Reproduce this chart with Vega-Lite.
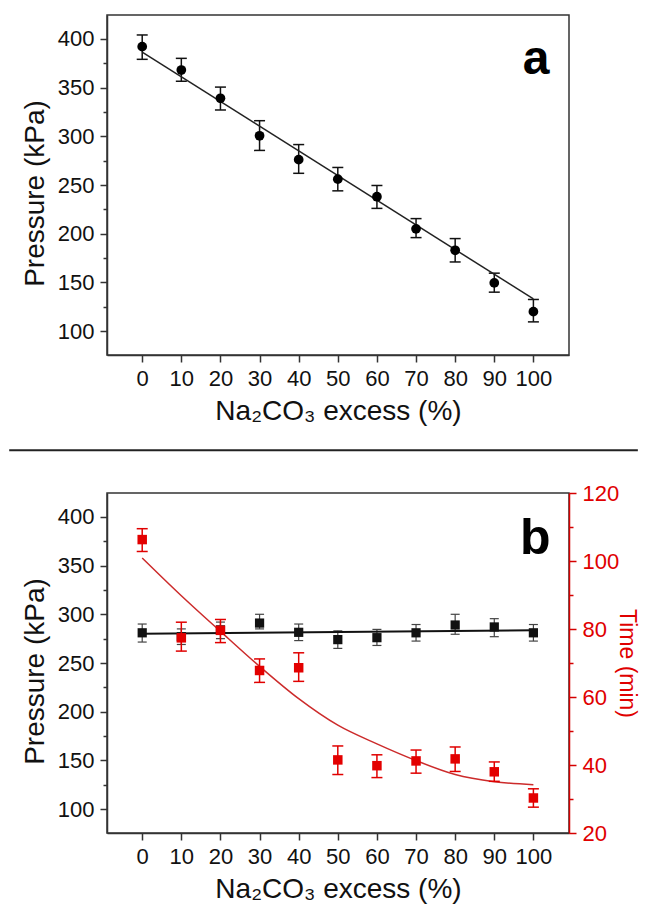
{
  "$schema": "https://vega.github.io/schema/vega-lite/v6.json",
  "padding": {"left": 7, "top": 14, "right": 0, "bottom": 0},
  "background": "white",
  "bounds": "flush",
  "spacing": 138,
  "config": {
    "font": "Liberation Sans",
    "view": {"stroke": "#333", "strokeWidth": 1.5},
    "axis": {
      "labelFont": "Liberation Sans", "titleFont": "Liberation Sans",
      "labelFontSize": 22, "titleFontSize": 28, "titleFontWeight": "normal",
      "labelColor": "#111", "titleColor": "#111",
      "domainColor": "#333", "domainWidth": 1.5,
      "tickColor": "#333", "tickWidth": 1.5, "tickSize": 7,
      "labelPadding": 6, "grid": false, "labelFlush": false, "labelOverlap": false,
      "titlePadding": 8
    }
  },
  "datasets": {
    "pa": [
      {"x": 0, "p": 392, "lo": 379, "hi": 404},
      {"x": 10, "p": 368, "lo": 356.5, "hi": 380},
      {"x": 20, "p": 339, "lo": 327, "hi": 350.5},
      {"x": 30, "p": 300.5, "lo": 285.5, "hi": 316},
      {"x": 40, "p": 276, "lo": 262, "hi": 291.5},
      {"x": 50, "p": 256, "lo": 244, "hi": 268},
      {"x": 60, "p": 238, "lo": 226, "hi": 249.5},
      {"x": 70, "p": 205, "lo": 196, "hi": 215.5},
      {"x": 80, "p": 183, "lo": 171, "hi": 195},
      {"x": 90, "p": 149.5, "lo": 140, "hi": 159.5},
      {"x": 100, "p": 120, "lo": 109.5, "hi": 132.5}
    ],
    "pa_fit": [
      {"x": 0, "p": 386.5},
      {"x": 100, "p": 133}
    ],
    "pb": [
      {"x": 0, "p": 281, "plo": 271.5, "phi": 290, "t": 106.3, "tlo": 102.8, "thi": 109.5},
      {"x": 10, "p": 277, "plo": 269, "phi": 285, "t": 77.4, "tlo": 73.5, "thi": 82},
      {"x": 20, "p": 284, "plo": 275, "phi": 292, "t": 79.6, "tlo": 76, "thi": 82.8},
      {"x": 30, "p": 291, "plo": 285, "phi": 300, "t": 67.8, "tlo": 64.3, "thi": 71.2},
      {"x": 40, "p": 281.5, "plo": 273, "phi": 290, "t": 68.6, "tlo": 64.6, "thi": 73},
      {"x": 50, "p": 274, "plo": 265, "phi": 283, "t": 41.5, "tlo": 37.2, "thi": 45.6},
      {"x": 60, "p": 276, "plo": 268, "phi": 284.5, "t": 39.8, "tlo": 36.3, "thi": 43},
      {"x": 70, "p": 281, "plo": 272.5, "phi": 289.5, "t": 41.2, "tlo": 37.6, "thi": 44.4},
      {"x": 80, "p": 289, "plo": 279.5, "phi": 300, "t": 41.8, "tlo": 38.1, "thi": 45.3},
      {"x": 90, "p": 287, "plo": 277, "phi": 295.5, "t": 38, "tlo": 35.2, "thi": 40.9},
      {"x": 100, "p": 281, "plo": 272.5, "phi": 289.5, "t": 30.3, "tlo": 27.6, "thi": 33}
    ],
    "pb_pfit": [
      {"x": 0, "p": 280},
      {"x": 100, "p": 283.5}
    ],
    "pb_tfit": [
      {"x": 0, "t": 100.9},
      {"x": 10, "t": 89.8},
      {"x": 20, "t": 79.3},
      {"x": 30, "t": 69},
      {"x": 40, "t": 59.5},
      {"x": 50, "t": 51.7},
      {"x": 60, "t": 46.2},
      {"x": 70, "t": 41.3},
      {"x": 80, "t": 37.2},
      {"x": 90, "t": 35.1},
      {"x": 100, "t": 34.2}
    ]
  },
  "vconcat": [
    {
      "width": 462,
      "height": 340,
      "layer": [
        {
          "data": {"values": [{}]},
          "mark": {"type": "rule", "color": "#222", "strokeWidth": 2},
          "encoding": {
            "x": {"datum": -34, "type": "quantitative", "scale": {"domain": [-9, 109.1], "nice": false, "zero": false}, "axis": {"values": [0,10,20,30,40,50,60,70,80,90,100], "title": "Na₂CO₃ excess (%)"}},
            "x2": {"datum": 126.7},
            "y": {"datum": -22.3, "type": "quantitative", "scale": {"domain": [75.5, 424.5], "nice": false, "zero": false}, "axis": {"values": [100,125,150,175,200,225,250,275,300,325,350,375,400], "labelExpr": "datum.value % 50 === 0 ? datum.label : ''", "tickSize": {"condition": {"test": "datum.value % 50 !== 0", "value": 4}, "value": 7}, "title": "Pressure (kPa)", "titleY": 178}}
          }
        },
        {
          "data": {"name": "pa"},
          "mark": {"type": "rule", "color": "#111", "strokeWidth": 1.5},
          "encoding": {
            "x": {"field": "x", "type": "quantitative", "scale": {"domain": [-9, 109.1], "nice": false, "zero": false}, "axis": {"values": [0,10,20,30,40,50,60,70,80,90,100], "title": "Na₂CO₃ excess (%)"}},
            "y": {"field": "lo", "type": "quantitative", "scale": {"domain": [75.5, 424.5], "nice": false, "zero": false}, "axis": {"values": [100,125,150,175,200,225,250,275,300,325,350,375,400], "labelExpr": "datum.value % 50 === 0 ? datum.label : ''", "tickSize": {"condition": {"test": "datum.value % 50 !== 0", "value": 4}, "value": 7}, "title": "Pressure (kPa)", "titleY": 178}},
            "y2": {"field": "hi"}
          }
        },
        {
          "data": {"name": "pa"},
          "mark": {"type": "tick", "orient": "horizontal", "size": 11, "thickness": 1.5, "color": "#111", "opacity": 1},
          "encoding": {
            "x": {"field": "x", "type": "quantitative", "scale": {"domain": [-9, 109.1], "nice": false, "zero": false}, "axis": {"values": [0,10,20,30,40,50,60,70,80,90,100], "title": "Na₂CO₃ excess (%)"}},
            "y": {"field": "lo", "type": "quantitative", "scale": {"domain": [75.5, 424.5], "nice": false, "zero": false}, "axis": {"values": [100,125,150,175,200,225,250,275,300,325,350,375,400], "labelExpr": "datum.value % 50 === 0 ? datum.label : ''", "tickSize": {"condition": {"test": "datum.value % 50 !== 0", "value": 4}, "value": 7}, "title": "Pressure (kPa)", "titleY": 178}}
          }
        },
        {
          "data": {"name": "pa"},
          "mark": {"type": "tick", "orient": "horizontal", "size": 11, "thickness": 1.5, "color": "#111", "opacity": 1},
          "encoding": {
            "x": {"field": "x", "type": "quantitative", "scale": {"domain": [-9, 109.1], "nice": false, "zero": false}, "axis": {"values": [0,10,20,30,40,50,60,70,80,90,100], "title": "Na₂CO₃ excess (%)"}},
            "y": {"field": "hi", "type": "quantitative", "scale": {"domain": [75.5, 424.5], "nice": false, "zero": false}, "axis": {"values": [100,125,150,175,200,225,250,275,300,325,350,375,400], "labelExpr": "datum.value % 50 === 0 ? datum.label : ''", "tickSize": {"condition": {"test": "datum.value % 50 !== 0", "value": 4}, "value": 7}, "title": "Pressure (kPa)", "titleY": 178}}
          }
        },
        {
          "data": {"name": "pa_fit"},
          "mark": {"type": "line", "color": "#222", "strokeWidth": 1.5},
          "encoding": {
            "x": {"field": "x", "type": "quantitative", "scale": {"domain": [-9, 109.1], "nice": false, "zero": false}, "axis": {"values": [0,10,20,30,40,50,60,70,80,90,100], "title": "Na₂CO₃ excess (%)"}},
            "y": {"field": "p", "type": "quantitative", "scale": {"domain": [75.5, 424.5], "nice": false, "zero": false}, "axis": {"values": [100,125,150,175,200,225,250,275,300,325,350,375,400], "labelExpr": "datum.value % 50 === 0 ? datum.label : ''", "tickSize": {"condition": {"test": "datum.value % 50 !== 0", "value": 4}, "value": 7}, "title": "Pressure (kPa)", "titleY": 178}}
          }
        },
        {
          "data": {"name": "pa"},
          "mark": {"type": "point", "shape": "circle", "filled": true, "size": 95, "color": "#000", "opacity": 1},
          "encoding": {
            "x": {"field": "x", "type": "quantitative", "scale": {"domain": [-9, 109.1], "nice": false, "zero": false}, "axis": {"values": [0,10,20,30,40,50,60,70,80,90,100], "title": "Na₂CO₃ excess (%)"}},
            "y": {"field": "p", "type": "quantitative", "scale": {"domain": [75.5, 424.5], "nice": false, "zero": false}, "axis": {"values": [100,125,150,175,200,225,250,275,300,325,350,375,400], "labelExpr": "datum.value % 50 === 0 ? datum.label : ''", "tickSize": {"condition": {"test": "datum.value % 50 !== 0", "value": 4}, "value": 7}, "title": "Pressure (kPa)", "titleY": 178}}
          }
        },
        {
          "data": {"values": [{}]},
          "mark": {"type": "text", "text": "a", "fontSize": 48, "fontWeight": "bold", "font": "Liberation Sans", "align": "center", "baseline": "alphabetic", "color": "#000"},
          "encoding": {
            "x": {"datum": 100.7, "type": "quantitative", "scale": {"domain": [-9, 109.1], "nice": false, "zero": false}, "axis": {"values": [0,10,20,30,40,50,60,70,80,90,100], "title": "Na₂CO₃ excess (%)"}},
            "y": {"datum": 363.6, "type": "quantitative", "scale": {"domain": [75.5, 424.5], "nice": false, "zero": false}, "axis": {"values": [100,125,150,175,200,225,250,275,300,325,350,375,400], "labelExpr": "datum.value % 50 === 0 ? datum.label : ''", "tickSize": {"condition": {"test": "datum.value % 50 !== 0", "value": 4}, "value": 7}, "title": "Pressure (kPa)", "titleY": 178}}
          }
        }
      ]
    },
    {
      "width": 462,
      "height": 340,
      "resolve": {"scale": {"y": "independent"}, "axis": {"y": "independent"}},
      "layer": [
        {
          "layer": [
            {
              "data": {"name": "pb"},
              "mark": {"type": "rule", "color": "#444", "strokeWidth": 1.2},
              "encoding": {
                "x": {"field": "x", "type": "quantitative", "scale": {"domain": [-9, 109.1], "nice": false, "zero": false}, "axis": {"values": [0,10,20,30,40,50,60,70,80,90,100], "title": "Na₂CO₃ excess (%)"}},
                "y": {"field": "plo", "type": "quantitative", "scale": {"domain": [75.5, 424.5], "nice": false, "zero": false}, "axis": {"values": [100,125,150,175,200,225,250,275,300,325,350,375,400], "labelExpr": "datum.value % 50 === 0 ? datum.label : ''", "tickSize": {"condition": {"test": "datum.value % 50 !== 0", "value": 4}, "value": 7}, "title": "Pressure (kPa)", "titleY": 178}},
                "y2": {"field": "phi"}
              }
            },
            {
              "data": {"name": "pb"},
              "mark": {"type": "tick", "orient": "horizontal", "size": 9, "thickness": 1.2, "color": "#444", "opacity": 1},
              "encoding": {
                "x": {"field": "x", "type": "quantitative", "scale": {"domain": [-9, 109.1], "nice": false, "zero": false}, "axis": {"values": [0,10,20,30,40,50,60,70,80,90,100], "title": "Na₂CO₃ excess (%)"}},
                "y": {"field": "plo", "type": "quantitative", "scale": {"domain": [75.5, 424.5], "nice": false, "zero": false}, "axis": {"values": [100,125,150,175,200,225,250,275,300,325,350,375,400], "labelExpr": "datum.value % 50 === 0 ? datum.label : ''", "tickSize": {"condition": {"test": "datum.value % 50 !== 0", "value": 4}, "value": 7}, "title": "Pressure (kPa)", "titleY": 178}}
              }
            },
            {
              "data": {"name": "pb"},
              "mark": {"type": "tick", "orient": "horizontal", "size": 9, "thickness": 1.2, "color": "#444", "opacity": 1},
              "encoding": {
                "x": {"field": "x", "type": "quantitative", "scale": {"domain": [-9, 109.1], "nice": false, "zero": false}, "axis": {"values": [0,10,20,30,40,50,60,70,80,90,100], "title": "Na₂CO₃ excess (%)"}},
                "y": {"field": "phi", "type": "quantitative", "scale": {"domain": [75.5, 424.5], "nice": false, "zero": false}, "axis": {"values": [100,125,150,175,200,225,250,275,300,325,350,375,400], "labelExpr": "datum.value % 50 === 0 ? datum.label : ''", "tickSize": {"condition": {"test": "datum.value % 50 !== 0", "value": 4}, "value": 7}, "title": "Pressure (kPa)", "titleY": 178}}
              }
            },
            {
              "data": {"name": "pb_pfit"},
              "mark": {"type": "line", "color": "#111", "strokeWidth": 2},
              "encoding": {
                "x": {"field": "x", "type": "quantitative", "scale": {"domain": [-9, 109.1], "nice": false, "zero": false}, "axis": {"values": [0,10,20,30,40,50,60,70,80,90,100], "title": "Na₂CO₃ excess (%)"}},
                "y": {"field": "p", "type": "quantitative", "scale": {"domain": [75.5, 424.5], "nice": false, "zero": false}, "axis": {"values": [100,125,150,175,200,225,250,275,300,325,350,375,400], "labelExpr": "datum.value % 50 === 0 ? datum.label : ''", "tickSize": {"condition": {"test": "datum.value % 50 !== 0", "value": 4}, "value": 7}, "title": "Pressure (kPa)", "titleY": 178}}
              }
            },
            {
              "data": {"name": "pb"},
              "mark": {"type": "square", "filled": true, "size": 85, "color": "#111", "opacity": 1},
              "encoding": {
                "x": {"field": "x", "type": "quantitative", "scale": {"domain": [-9, 109.1], "nice": false, "zero": false}, "axis": {"values": [0,10,20,30,40,50,60,70,80,90,100], "title": "Na₂CO₃ excess (%)"}},
                "y": {"field": "p", "type": "quantitative", "scale": {"domain": [75.5, 424.5], "nice": false, "zero": false}, "axis": {"values": [100,125,150,175,200,225,250,275,300,325,350,375,400], "labelExpr": "datum.value % 50 === 0 ? datum.label : ''", "tickSize": {"condition": {"test": "datum.value % 50 !== 0", "value": 4}, "value": 7}, "title": "Pressure (kPa)", "titleY": 178}}
              }
            },
            {
              "data": {"values": [{}]},
              "mark": {"type": "text", "text": "b", "fontSize": 50, "fontWeight": "bold", "font": "Liberation Sans", "align": "center", "baseline": "alphabetic", "color": "#000"},
              "encoding": {
                "x": {"datum": 100.5, "type": "quantitative", "scale": {"domain": [-9, 109.1], "nice": false, "zero": false}, "axis": {"values": [0,10,20,30,40,50,60,70,80,90,100], "title": "Na₂CO₃ excess (%)"}},
                "y": {"datum": 362, "type": "quantitative", "scale": {"domain": [75.5, 424.5], "nice": false, "zero": false}, "axis": {"values": [100,125,150,175,200,225,250,275,300,325,350,375,400], "labelExpr": "datum.value % 50 === 0 ? datum.label : ''", "tickSize": {"condition": {"test": "datum.value % 50 !== 0", "value": 4}, "value": 7}, "title": "Pressure (kPa)", "titleY": 178}}
              }
            }
          ]
        },
        {
          "layer": [
            {
              "data": {"name": "pb_tfit"},
              "mark": {"type": "line", "color": "#cc2b2b", "strokeWidth": 1.5, "interpolate": "monotone"},
              "encoding": {
                "x": {"field": "x", "type": "quantitative", "scale": {"domain": [-9, 109.1], "nice": false, "zero": false}, "axis": {"values": [0,10,20,30,40,50,60,70,80,90,100], "title": "Na₂CO₃ excess (%)"}},
                "y": {"field": "t", "type": "quantitative", "scale": {"domain": [20, 120], "nice": false, "zero": false}, "axis": {"orient": "right", "values": [20,30,40,50,60,70,80,90,100,110,120], "labelExpr": "datum.value % 20 === 0 ? datum.label : ''", "tickSize": {"condition": {"test": "datum.value % 20 !== 0", "value": 4}, "value": 7}, "title": "Time (min)", "titleFontSize": 23, "domainColor": "#d40000", "tickColor": "#d40000", "labelColor": "#e00000", "titleColor": "#e00000", "titlePadding": -4}}
              }
            },
            {
              "data": {"name": "pb"},
              "mark": {"type": "rule", "color": "#e00000", "strokeWidth": 1.5},
              "encoding": {
                "x": {"field": "x", "type": "quantitative", "scale": {"domain": [-9, 109.1], "nice": false, "zero": false}, "axis": {"values": [0,10,20,30,40,50,60,70,80,90,100], "title": "Na₂CO₃ excess (%)"}},
                "y": {"field": "tlo", "type": "quantitative", "scale": {"domain": [20, 120], "nice": false, "zero": false}, "axis": {"orient": "right", "values": [20,30,40,50,60,70,80,90,100,110,120], "labelExpr": "datum.value % 20 === 0 ? datum.label : ''", "tickSize": {"condition": {"test": "datum.value % 20 !== 0", "value": 4}, "value": 7}, "title": "Time (min)", "titleFontSize": 23, "domainColor": "#d40000", "tickColor": "#d40000", "labelColor": "#e00000", "titleColor": "#e00000", "titlePadding": -4}},
                "y2": {"field": "thi"}
              }
            },
            {
              "data": {"name": "pb"},
              "mark": {"type": "tick", "orient": "horizontal", "size": 11, "thickness": 1.5, "color": "#e00000", "opacity": 1},
              "encoding": {
                "x": {"field": "x", "type": "quantitative", "scale": {"domain": [-9, 109.1], "nice": false, "zero": false}, "axis": {"values": [0,10,20,30,40,50,60,70,80,90,100], "title": "Na₂CO₃ excess (%)"}},
                "y": {"field": "tlo", "type": "quantitative", "scale": {"domain": [20, 120], "nice": false, "zero": false}, "axis": {"orient": "right", "values": [20,30,40,50,60,70,80,90,100,110,120], "labelExpr": "datum.value % 20 === 0 ? datum.label : ''", "tickSize": {"condition": {"test": "datum.value % 20 !== 0", "value": 4}, "value": 7}, "title": "Time (min)", "titleFontSize": 23, "domainColor": "#d40000", "tickColor": "#d40000", "labelColor": "#e00000", "titleColor": "#e00000", "titlePadding": -4}}
              }
            },
            {
              "data": {"name": "pb"},
              "mark": {"type": "tick", "orient": "horizontal", "size": 11, "thickness": 1.5, "color": "#e00000", "opacity": 1},
              "encoding": {
                "x": {"field": "x", "type": "quantitative", "scale": {"domain": [-9, 109.1], "nice": false, "zero": false}, "axis": {"values": [0,10,20,30,40,50,60,70,80,90,100], "title": "Na₂CO₃ excess (%)"}},
                "y": {"field": "thi", "type": "quantitative", "scale": {"domain": [20, 120], "nice": false, "zero": false}, "axis": {"orient": "right", "values": [20,30,40,50,60,70,80,90,100,110,120], "labelExpr": "datum.value % 20 === 0 ? datum.label : ''", "tickSize": {"condition": {"test": "datum.value % 20 !== 0", "value": 4}, "value": 7}, "title": "Time (min)", "titleFontSize": 23, "domainColor": "#d40000", "tickColor": "#d40000", "labelColor": "#e00000", "titleColor": "#e00000", "titlePadding": -4}}
              }
            },
            {
              "data": {"name": "pb"},
              "mark": {"type": "square", "filled": true, "size": 90, "color": "#e30000", "opacity": 1},
              "encoding": {
                "x": {"field": "x", "type": "quantitative", "scale": {"domain": [-9, 109.1], "nice": false, "zero": false}, "axis": {"values": [0,10,20,30,40,50,60,70,80,90,100], "title": "Na₂CO₃ excess (%)"}},
                "y": {"field": "t", "type": "quantitative", "scale": {"domain": [20, 120], "nice": false, "zero": false}, "axis": {"orient": "right", "values": [20,30,40,50,60,70,80,90,100,110,120], "labelExpr": "datum.value % 20 === 0 ? datum.label : ''", "tickSize": {"condition": {"test": "datum.value % 20 !== 0", "value": 4}, "value": 7}, "title": "Time (min)", "titleFontSize": 23, "domainColor": "#d40000", "tickColor": "#d40000", "labelColor": "#e00000", "titleColor": "#e00000", "titlePadding": -4}}
              }
            }
          ]
        }
      ]
    }
  ]
}
